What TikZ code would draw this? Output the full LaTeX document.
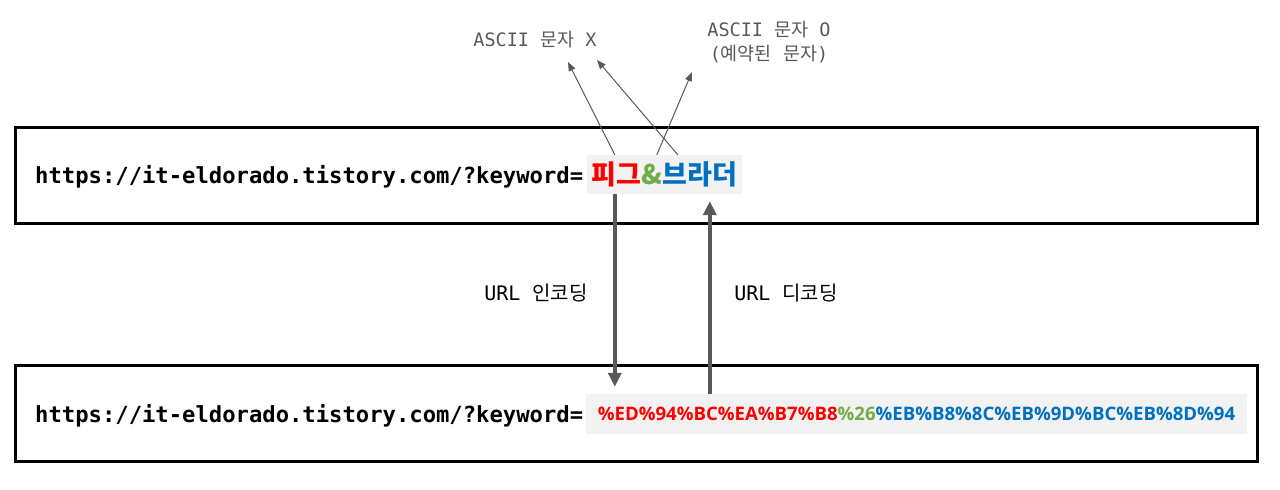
\documentclass[tikz,border=0pt]{standalone}
\usepackage{fontspec}
\setmonofont{DejaVu Sans Mono}
\newfontfamily\krfont{Noto Sans CJK KR}
\newfontfamily\hexfont{Open Sans}
\usetikzlibrary{arrows.meta, positioning}
\definecolor{arrowgray}{HTML}{595959}
\definecolor{hlgray}{HTML}{F2F2F2}
\definecolor{krred}{HTML}{FF0000}
\definecolor{krgreen}{HTML}{70AD47}
\definecolor{krblue}{HTML}{0070C0}
\newcommand{\ko}[1]{{\krfont #1}}
\tikzset{
    urlbox/.style={draw, line width=3pt, minimum width=1242pt, minimum height=96pt, inner sep=0pt}, % the two frames
    urltext/.style={anchor=base west, inner sep=0pt, font=\ttfamily\bfseries\fontsize{22.2}{26}\selectfont},
    hl/.style={fill=hlgray, inner sep=0pt}, % grey highlight behind the keyword
    note/.style={text=arrowgray, font=\ttfamily\fontsize{18.5}{24}\selectfont, align=center},
    steplabel/.style={font=\ttfamily\fontsize{20}{24}\selectfont},
    thin arrow/.style={-{Triangle[width=7pt,length=9pt]}, arrowgray, line width=1pt},
    thick arrow/.style={-{Triangle[width=13pt,length=14pt]}, arrowgray, line width=4pt},
}
\begin{document}
\begin{tikzpicture}[x=1pt, y=-1pt]
    \useasboundingbox (0,0) rectangle (1280,490);
    % frames
    \node[urlbox] (upper) at (636.75,175) {};
    \node[urlbox] (lower) at (636.75,413.5) {};
    % urls
    \node[urltext] (url1) at (35,183) {https://it-eldorado.tistory.com/?keyword=};
    \node[urltext] (url2) at (35,422) {https://it-eldorado.tistory.com/?keyword=};
    \node[hl, minimum width=155pt, minimum height=39pt] (kr) at (664.5,174.5)
        {\krfont\bfseries\fontsize{27}{30}\selectfont\textcolor{krred}{피그}\textcolor{krgreen}{\&}\textcolor{krblue}{브라더}};
    \node[hl, minimum width=661pt, minimum height=40pt] (code) at (916.5,414)
        {\hexfont\bfseries\fontsize{18.6}{24}\selectfont\textcolor{krred}{\%ED\%94\%BC\%EA\%B7\%B8}\textcolor{krgreen}{\%26}\textcolor{krblue}{\%EB\%B8\%8C\%EB\%9D\%BC\%EB\%8D\%94}};
    % notes
    \node[note] (nonascii) at (535,40) {ASCII \ko{문자} X};
    \node[note] (reserved) at (769,42) {ASCII \ko{문자} O\\(\ko{예약된} \ko{문자})};
    \node[steplabel] (enc) at (536,293) {URL \ko{인코딩}};
    \node[steplabel] (dec) at (786,293) {URL \ko{디코딩}};
    \coordinate (tipa) at (568,62);
    \coordinate (tipb) at (597,60);
    \coordinate (tipc) at (692,72);
    % arrows
    \draw[thin arrow] ([xshift=28pt]kr.north west) -- (tipa);
    \draw[thin arrow] ([xshift=91pt]kr.north west) -- (tipb);
    \draw[thin arrow] ([xshift=70pt]kr.north west) -- (tipc);
    \draw[thick arrow, shorten >=7pt] ([xshift=28pt]kr.south west) -- ([xshift=29pt]code.north west);
    \draw[thick arrow, shorten >=7pt] ([xshift=124pt]code.north west) -- ([xshift=123pt]kr.south west);
\end{tikzpicture}
\end{document}
